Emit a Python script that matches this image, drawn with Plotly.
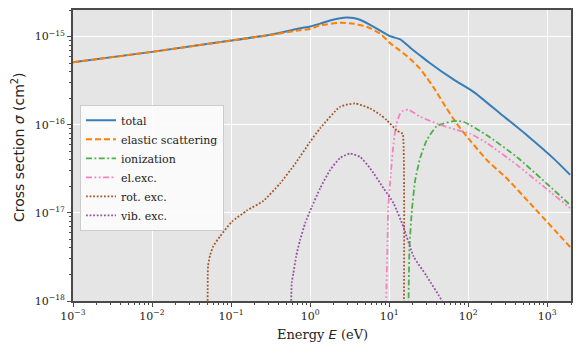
import plotly.graph_objects as go

# ---------------- data (E in eV, sigma in cm^2) ----------------
total_E = [1e-3, 1e-2, 0.1, 0.31, 0.75, 1.0, 1.34, 1.78, 2.4, 2.9, 3.55, 4.27, 5.75, 7.7, 10.3, 13.8, 14.5, 18.5,
           24.7, 31.4, 65, 117, 254, 553, 1200, 1950]
total_S = [5.1e-16, 6.7e-16, 9.0e-16, 1.05e-15, 1.24e-15, 1.3e-15, 1.4e-15, 1.52e-15, 1.61e-15, 1.64e-15, 1.62e-15,
           1.55e-15, 1.36e-15, 1.17e-15, 1.01e-15, 9.3e-16, 9.0e-16, 7.46e-16,
           6.1e-16, 5.15e-16, 3.26e-16, 2.36e-16, 1.34e-16, 7.6e-17, 4.15e-17, 2.7e-17]

elastic_E = [1e-3, 1e-2, 0.1, 0.31, 0.75, 1.0, 1.34, 2.4, 3.55, 5.2, 7.7, 10.3, 13.8, 18.4, 24.7, 30, 36.4, 53.7,
             72, 106, 172, 309, 603, 1950]
elastic_S = [5.1e-16, 6.7e-16, 9.0e-16, 1.04e-15, 1.18e-15, 1.22e-15, 1.34e-15, 1.43e-15, 1.4e-15, 1.29e-15,
             1.08e-15, 8.4e-16, 6.9e-16, 5.6e-16, 4.3e-16, 3.4e-16, 2.65e-16, 1.52e-16,
             1.02e-16, 6.6e-17, 3.98e-17, 2.45e-17, 1.29e-17, 4.1e-18]

ion_E = [17.5, 17.6, 18.1, 19.4, 21.4, 24.7, 30, 40, 65, 87, 172, 413, 1950]
ion_S = [1e-20, 1e-18, 4.1e-18, 1.07e-17, 2.36e-17, 4.2e-17, 6.7e-17, 9.6e-17, 1.1e-16, 1.08e-16, 7.6e-17,
         4.3e-17, 1.23e-17]

elexc_E = [9.1, 9.17, 9.55, 9.75, 10.5, 11.35, 12.3, 13.8, 15.1, 17.5, 24.7, 44, 72, 106, 172, 413, 1950]
elexc_S = [1e-20, 1e-18, 4.9e-18, 1.17e-17, 2.8e-17, 6e-17, 1.0e-16, 1.34e-16, 1.45e-16, 1.48e-16, 1.23e-16,
           1.0e-16, 8.7e-17, 7.9e-17, 6.2e-17, 3.5e-17, 1.13e-17]

rot_E = [0.0506, 0.0507, 0.0512, 0.0542, 0.0597, 0.0724, 0.102, 0.158, 0.257, 0.417, 0.646, 1.0, 1.34, 2.4,
         3.7, 5.75, 7.7, 9.3, 12.5, 14.5, 14.9, 14.9]
rot_S = [1e-20, 2.0e-18, 2.5e-18, 3.3e-18, 4.2e-18, 5.4e-18, 7.9e-18, 1.06e-17, 1.37e-17, 2.16e-17, 3.6e-17,
         6.4e-17, 9.1e-17, 1.6e-16, 1.74e-16, 1.53e-16, 1.3e-16, 1.13e-16, 8.6e-17, 8.0e-17, 7.9e-17, 1e-20]

vib_E = [0.58, 0.585, 0.615, 0.665, 0.746, 0.865, 1.05, 1.34, 1.79, 2.4, 3.2, 4.3, 5.75, 8.5, 11.35, 15.1,
         20.4, 30, 46.5, 60]
vib_S = [1e-20, 1.6e-18, 2.07e-18, 3.2e-18, 4.9e-18, 7.6e-18, 1.17e-17, 1.9e-17, 3.06e-17, 4.2e-17, 4.7e-17,
         4.3e-17, 3.2e-17, 1.9e-17, 1.29e-17, 7e-18, 3.2e-18, 1.9e-18, 1e-18, 5e-19]

x_tickvals = [1e-3, 1e-2, 1e-1, 1e0, 1e1, 1e2, 1e3]
x_ticktext = ["10<sup>\u22123</sup>", "10<sup>\u22122</sup>", "10<sup>\u22121</sup>", "10<sup>0</sup>",
              "10<sup>1</sup>", "10<sup>2</sup>", "10<sup>3</sup>"]
y_tickvals = [1e-18, 1e-17, 1e-16, 1e-15]
y_ticktext = ["10<sup>\u221218</sup>", "10<sup>\u221217</sup>", "10<sup>\u221216</sup>", "10<sup>\u221215</sup>"]

# ---------------- styling ----------------
SERIF = "DejaVu Serif"
AXC = "#4a4a4a"

fig = go.Figure()
series = [
    ("total", total_E, total_S, "#377eb8", "solid", 2.0),
    ("elastic scattering", elastic_E, elastic_S, "#ff7f00", "6px,3px", 2.0),
    ("ionization", ion_E, ion_S, "#4daf4a", "6px,2.5px,1.8px,2.5px", 1.8),
    ("el.exc.", elexc_E, elexc_S, "#f781bf", "6px,2.5px,1.8px,2.5px,1.8px,2.5px", 1.8),
    ("rot. exc.", rot_E, rot_S, "#a65628", "1.8px,1.8px", 1.8),
    ("vib. exc.", vib_E, vib_S, "#984ea3", "1.8px,1.8px", 1.8),
]
for name, xs, ys, col, dash, w in series:
    fig.add_trace(go.Scatter(x=xs, y=ys, mode="lines", name=name,
                             line=dict(color=col, dash=dash, width=w, shape="spline", smoothing=0.5)))

minor_vals = [m * 10.0 ** k for k in range(-4, 4) for m in range(2, 10)]
minor_y = [m * 10.0 ** k for k in range(-19, -14) for m in range(2, 10)]

common = dict(ticks="outside", ticklen=4, tickwidth=1, tickcolor=AXC,
              showline=True, mirror=True, linecolor=AXC, linewidth=1.6,
              showgrid=True, gridcolor="white", gridwidth=1.2, zeroline=False, automargin=False,
              tickfont=dict(family=SERIF, size=11, color="#222"))
fig.update_xaxes(type="log", range=[-3, 3.301], tickmode="array", tickvals=x_tickvals, ticktext=x_ticktext,
                 minor=dict(tickmode="array", tickvals=minor_vals, ticks="outside", ticklen=2.5,
                            tickcolor=AXC, tickwidth=0.8, showgrid=False), **common)
fig.update_yaxes(type="log", range=[-18, -14.699], tickmode="array", tickvals=y_tickvals, ticktext=y_ticktext,
                 minor=dict(tickmode="array", tickvals=minor_y, ticks="outside", ticklen=2.5,
                            tickcolor=AXC, tickwidth=0.8, showgrid=False), **common)

fig.update_layout(
    width=581, height=355,
    margin=dict(l=73, r=10, t=10, b=54, autoexpand=False),
    paper_bgcolor="white", plot_bgcolor="#e5e5e5",
    showlegend=True,
    legend=dict(x=0.014, y=0.674, xanchor="left", yanchor="top",
                bgcolor="rgba(252,252,252,0.9)", bordercolor="#cccccc", borderwidth=1,
                font=dict(family=SERIF, size=11, color="#222"), tracegroupgap=0),
    annotations=[
        dict(text="Energy <span style='font-family:DejaVu Sans'><i>E</i></span> (eV)",
             xref="paper", yref="paper", x=0.5, y=-0.115, xanchor="center", yanchor="middle",
             showarrow=False, font=dict(family=SERIF, size=13, color="#222")),
        dict(text="Cross section <i>\u03c3</i> (cm<sup>2</sup>)",
             xref="paper", yref="paper", x=-0.110, y=0.53, xanchor="center", yanchor="middle",
             textangle=-90, showarrow=False, font=dict(family="DejaVu Sans", size=14, color="#222")),
    ],
)

fig.write_html("out.html", config={"displayModeBar": False},
               post_script="document.body.style.margin='0';document.body.style.overflow='hidden';")
